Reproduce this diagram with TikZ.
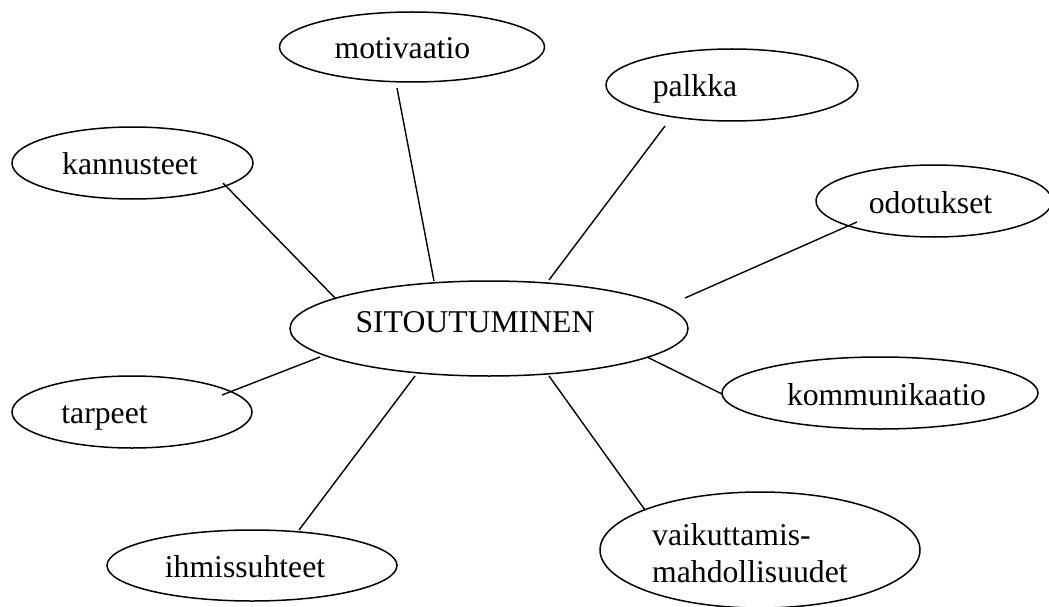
\documentclass[tikz,border=0pt]{standalone}
\usepackage{fontspec}
\setmainfont{Liberation Serif}
\usetikzlibrary{shapes.geometric}
\tikzset{
  oval/.style={draw, ellipse, line width=1.5pt, inner sep=0pt},
  lbl/.style={font=\fontsize{31.7}{37}\selectfont, inner sep=0pt, anchor=base},
  link/.style={line width=1.4pt},
}
\begin{document}
\begin{tikzpicture}[x=1pt,y=-1pt]
\useasboundingbox (0,0) rectangle (1049,607);
% ellipses
\node[oval, minimum width=265pt, minimum height=70pt] (mot) at (412,47) {};
\node[oval, minimum width=252pt, minimum height=72pt] (pal) at (732,85) {};
\node[oval, minimum width=241pt, minimum height=72pt] (kan) at (132.5,163) {};
\node[oval, minimum width=236pt, minimum height=72pt] (odo) at (934,201) {};
\node[oval, minimum width=398pt, minimum height=95pt] (sit) at (489,328.5) {};
\node[oval, minimum width=240pt, minimum height=72pt] (tar) at (132,412) {};
\node[oval, minimum width=316pt, minimum height=72pt] (kom) at (880,393) {};
\node[oval, minimum width=290pt, minimum height=71pt] (ihm) at (252,565.5) {};
\node[oval, minimum width=320pt, minimum height=116pt] (vai) at (760,550) {};
% texts
\node[lbl] (mot-t) at (402.5,59) {motivaatio};
\node[lbl] (pal-t) at (695,97) {palkka};
\node[lbl] (kan-t) at (130,175) {kannusteet};
\node[lbl] (odo-t) at (930.5,213) {odotukset};
\node[lbl] (sit-t) at (475,332) {SITOUTUMINEN};
\node[lbl] (tar-t) at (104.5,423) {tarpeet};
\node[lbl] (kom-t) at (886.5,405) {kommunikaatio};
\node[lbl] (ihm-t) at (245,577) {ihmissuhteet};
\node[lbl, anchor=base west] (vai-t1) at (652,545) {vaikuttamis-};
\node[lbl, anchor=base west] (vai-t2) at (652,582) {mahdollisuudet};
% connector ends
\coordinate (kan-a) at (223,183); \coordinate (kan-b) at (336,299);
\coordinate (mot-a) at (397,88);  \coordinate (mot-b) at (434,281);
\coordinate (pal-a) at (665,126); \coordinate (pal-b) at (549,280);
\coordinate (odo-a) at (857,222); \coordinate (odo-b) at (685,298);
\coordinate (tar-a) at (222,395); \coordinate (tar-b) at (320,357);
\coordinate (kom-a) at (722,394); \coordinate (kom-b) at (647,357);
\coordinate (ihm-a) at (299,530); \coordinate (ihm-b) at (415,376);
\coordinate (vai-a) at (645,510); \coordinate (vai-b) at (549,376);
\draw[link] (kan-a) -- (kan-b);
\draw[link] (mot-a) -- (mot-b);
\draw[link] (pal-a) -- (pal-b);
\draw[link] (odo-a) -- (odo-b);
\draw[link] (tar-a) -- (tar-b);
\draw[link] (kom-a) -- (kom-b);
\draw[link] (ihm-a) -- (ihm-b);
\draw[link] (vai-a) -- (vai-b);
\end{tikzpicture}
\end{document}
